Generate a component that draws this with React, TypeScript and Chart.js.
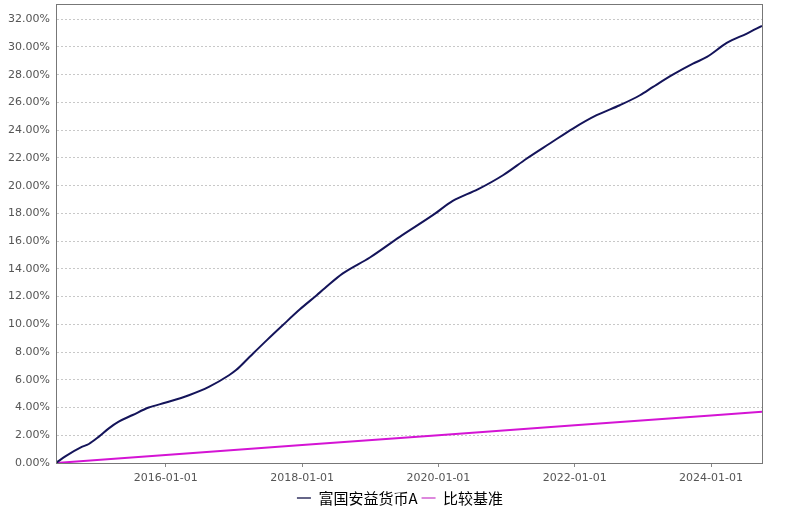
import React, { useEffect, useRef } from "react";
import { Chart, registerables } from "chart.js";

Chart.register(...registerables);

const fundName = "富国安益货币A";
const benchName = "比较基准";

const fundDates = [
  "2014-05-23", "2014-07-14", "2014-10-03", "2014-11-15", "2015-01-08", "2015-03-02",
  "2015-04-24", "2015-07-08", "2015-10-02", "2016-01-02", "2016-05-04", "2016-08-19",
  "2016-12-05", "2017-01-12", "2017-03-26", "2017-06-26", "2017-09-20", "2017-12-20",
  "2018-03-20", "2018-05-02", "2018-08-07", "2018-12-30", "2019-06-08", "2019-12-02",
  "2020-03-18", "2020-07-30", "2020-12-12", "2021-04-19", "2021-08-20", "2021-12-22",
  "2022-04-28", "2022-08-30", "2022-12-16", "2023-02-24", "2023-06-10", "2023-09-26",
  "2023-12-10", "2024-03-25", "2024-07-11", "2024-09-30",
];
const fundValues = [
  0, 0.5, 1.13, 1.37, 1.9, 2.5,
  2.98, 3.46, 4.0, 4.36, 4.89, 5.49,
  6.33, 6.7, 7.66, 8.86, 9.95, 11.08,
  12.1, 12.6, 13.67, 14.82, 16.31, 17.87,
  18.9, 19.73, 20.75, 21.96, 23.04, 24.12,
  25.08, 25.8, 26.52, 27.12, 28.0, 28.8,
  29.28, 30.29, 30.97, 31.52,
];

const benchDates = ["2014-05-23", "2016-01-01", "2018-01-01", "2020-01-01", "2022-01-01", "2024-01-01", "2024-09-30"];
const benchValues = [0, 0.58, 1.3, 2.0, 2.72, 3.43, 3.7];

const xTickDates = ["2016-01-01", "2018-01-01", "2020-01-01", "2022-01-01", "2024-01-01"];
const yTickValues = [0, 2, 4, 6, 8, 10, 12, 14, 16, 18, 20, 22, 24, 26, 28, 30, 32];

const toTs = (s: string) => {
  const [y, m, d] = s.split("-").map(Number);
  return Date.UTC(y, m - 1, d);
};
const fmtDate = (ts: number) => {
  const d = new Date(ts);
  const p = (n: number) => String(n).padStart(2, "0");
  return `${d.getUTCFullYear()}-${p(d.getUTCMonth() + 1)}-${p(d.getUTCDate())}`;
};

const boxPlugin = {
  id: "boxPlugin",
  afterDraw(chart: any) {
    const { ctx, chartArea } = chart;
    ctx.save();
    ctx.strokeStyle = "#777777";
    ctx.lineWidth = 1;
    ctx.strokeRect(chartArea.left + 0.5, chartArea.top + 0.5, chartArea.right - chartArea.left, chartArea.bottom - chartArea.top);
    ctx.restore();
  },
};

export default function App() {
  const ref = useRef<HTMLCanvasElement | null>(null);
  useEffect(() => {
    if (!ref.current) return;
    const chart = new Chart(ref.current, {
      type: "line",
      data: {
        datasets: [
          {
            label: fundName,
            data: fundDates.map((d, i) => ({ x: toTs(d), y: fundValues[i] })),
            borderColor: "#14145a",
            backgroundColor: "#14145a",
            borderWidth: 2,
            pointRadius: 0,
            cubicInterpolationMode: "monotone",
          },
          {
            label: benchName,
            data: benchDates.map((d, i) => ({ x: toTs(d), y: benchValues[i] })),
            borderColor: "#d414d4",
            backgroundColor: "#d414d4",
            borderWidth: 2,
            pointRadius: 0,
          },
        ],
      },
      options: {
        animation: false,
        responsive: true,
        maintainAspectRatio: false,
        layout: { padding: { top: 4, right: 0, left: 0, bottom: -3.5 } },
        plugins: {
          tooltip: { enabled: false },
          legend: {
            position: "bottom",
            labels: {
              usePointStyle: true,
              pointStyle: "line",
              pointStyleWidth: 14,
              boxWidth: 14,
              padding: 4,
              color: "#333333",
              font: { family: "'Noto Sans CJK SC', serif", size: 15 },
              generateLabels: (c: any) =>
                c.data.datasets.map((ds: any, i: number) => ({
                  text: ds.label,
                  strokeStyle: i === 0 ? "#666688" : "#dd88dd",
                  fillStyle: i === 0 ? "#666688" : "#dd88dd",
                  lineWidth: 2,
                  pointStyle: "line",
                  datasetIndex: i,
                  hidden: false,
                })),
            },
          },
        },
        scales: {
          x: {
            type: "linear",
            min: toTs(fundDates[0]),
            max: toTs(fundDates[fundDates.length - 1]),
            afterBuildTicks: (axis: any) => {
              axis.ticks = xTickDates.map((d) => ({ value: toTs(d) }));
            },
            afterFit: (axis: any) => {
              axis.height = 23.5;
              axis.paddingLeft = 0;
              axis.paddingRight = 0;
            },
            ticks: {
              autoSkip: false,
              maxRotation: 0,
              padding: 5,
              color: "#555555",
              font: { family: "'DejaVu Sans', sans-serif", size: 11 },
              callback: (v: any) => fmtDate(Number(v)),
            },
            grid: {
              drawOnChartArea: false,
              drawTicks: true,
              tickLength: 4,
              color: "#888888",
            },
            border: { color: "#666666", width: 1 },
          },
          y: {
            min: 0,
            max: 33.1,
            afterBuildTicks: (axis: any) => {
              axis.ticks = yTickValues.map((v) => ({ value: v }));
            },
            afterFit: (axis: any) => {
              axis.width = 56;
              axis.paddingTop = 0;
              axis.paddingBottom = 0;
            },
            ticks: {
              padding: 6,
              color: "#555555",
              font: { family: "'DejaVu Sans', sans-serif", size: 11 },
              callback: (v: any) => Number(v).toFixed(2) + "%",
            },
            grid: {
              drawTicks: false,
              color: "#c8c8c8",
              lineWidth: 1,
            },
            border: { color: "#666666", width: 1, dash: [2, 2] },
          },
          yRight: {
            position: "right",
            display: true,
            min: 0,
            max: 33.1,
            afterFit: (axis: any) => {
              axis.width = 38;
              axis.paddingTop = 0;
              axis.paddingBottom = 0;
            },
            ticks: { display: false },
            grid: { display: false, drawTicks: false },
            border: { display: false },
          },
        },
      },
      plugins: [boxPlugin],
    } as any);
    return () => chart.destroy();
  }, []);
  return (
    <div style={{ position: "absolute", left: 0, top: 0, width: 800, height: 512 }}>
      <canvas ref={ref} />
    </div>
  );
}
